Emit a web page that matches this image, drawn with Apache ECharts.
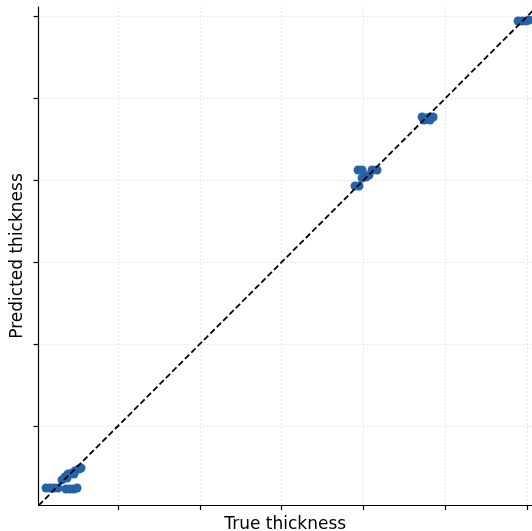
<!DOCTYPE html>
<html>
<head>
<meta charset="utf-8">
<script src="https://cdn.jsdelivr.net/npm/echarts@6/dist/echarts.min.js"></script>
<style>
  html, body { margin: 0; padding: 0; background: #fff; }
  #chart { width: 532px; height: 531px; }
</style>
</head>
<body>
<div id="chart"></div>
<script>
// true vs predicted thickness (axis units, ticks at 1..6)
const trueVals = [
  0.120, 0.169, 0.218, 0.267, 0.364, 0.413, 0.462, 0.499,
  0.315, 0.352, 0.389, 0.438, 0.474, 0.523, 0.548, 0.377, 0.462,
  3.934, 3.983, 4.105, 4.166, 3.983, 4.032, 4.068, 3.897, 3.946,
  4.716, 4.765, 4.814, 4.851, 4.741, 4.814,
  5.890, 5.939, 5.988, 6.024
];
const predVals = [
  0.243, 0.243, 0.243, 0.243, 0.231, 0.231, 0.231, 0.243,
  0.341, 0.377, 0.414, 0.426, 0.451, 0.475, 0.487, 0.365, 0.414,
  4.126, 4.126, 4.126, 4.126, 4.028, 4.040, 4.065, 3.930, 3.930,
  4.773, 4.761, 4.773, 4.773, 4.736, 4.736,
  5.945, 5.945, 5.945, 5.957
];
const tickVals = [1, 2, 3, 4, 5, 6];
const diagLine = [[0.03, 0.03], [6.12, 6.12]];

const points = trueVals.map((x, i) => [x, predVals[i]]);

const axisCommon = {
  type: "value",
  axisLine: { show: true, onZero: false, lineStyle: { color: "#000", width: 1.2 } },
  axisTick: { show: true, customValues: tickVals, length: 5, lineStyle: { color: "#000", width: 1.2 } },
  axisLabel: { show: false, customValues: tickVals },
  splitLine: { show: true, lineStyle: { color: "#e2e2e2", type: [2, 2], width: 0.8 } },
  nameLocation: "middle",
  nameTextStyle: { fontFamily: "DejaVu Sans", fontSize: 17, color: "#000" },
};

const chart = echarts.init(document.getElementById("chart"));
chart.setOption({
  animation: false,
  grid: { left: 38.5, right: 0, top: 7, bottom: 26, outerBoundsMode: "none", containLabel: false },
  xAxis: Object.assign({}, axisCommon, { name: "True thickness", nameGap: 11, min: 0.028, max: 6.06 }),
  yAxis: Object.assign({}, axisCommon, { name: "Predicted thickness", nameGap: 12, min: 0.035, max: 6.116 }),
  series: [
    {
      type: "scatter",
      data: points,
      symbolSize: 9,
      itemStyle: { color: "#2463aa", opacity: 1 },
      z: 2,
    },
    {
      type: "line",
      data: diagLine,
      symbol: "none",
      lineStyle: { color: "#000", type: [6, 3], width: 1.8 },
      z: 3,
    },
  ],
});
</script>
</body>
</html>
